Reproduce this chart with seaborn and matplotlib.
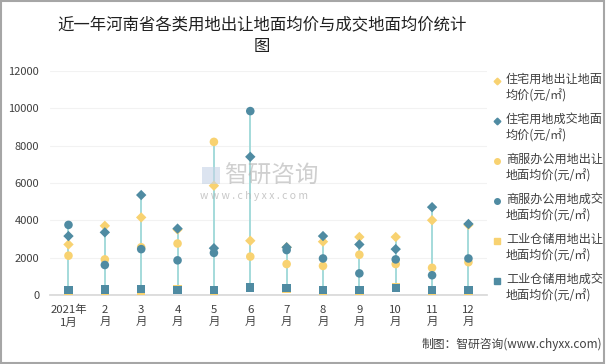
import numpy as np
import pandas as pd
import matplotlib.pyplot as plt
import matplotlib.patches as patches
from matplotlib.lines import Line2D
import seaborn as sns

sns.set_theme(style="white")
plt.rcParams['font.family'] = ['Noto Sans CJK SC', 'DejaVu Sans']

# data
months = ["2021年\n1月", "2\n月", "3\n月", "4\n月", "5\n月", "6\n月",
          "7\n月", "8\n月", "9\n月", "10\n月", "11\n月", "12\n月"]
res_transfer = [2700, 3700, 4150, 3500, 5850, 2900, 2550, 2850, 3100, 3100, 4000, 3750]
res_deal = [3150, 3350, 5350, 3550, 2500, 7400, 2550, 3150, 2700, 2450, 4700, 3800]
com_transfer = [2100, 1900, 2550, 2750, 8200, 2050, 1650, 1550, 2150, 1650, 1450, 1750]
com_deal = [3750, 1600, 2450, 1850, 2250, 9850, 2400, 1950, 1150, 1900, 1050, 1950]
ind_transfer = [200, 230, 150, 280, 220, 350, 300, 220, 200, 400, 220, 220]
ind_deal = [250, 280, 300, 250, 270, 400, 350, 270, 270, 350, 270, 270]

labels = ["住宅用地出让地面\n均价(元/㎡)", "住宅用地成交地面\n均价(元/㎡)",
          "商服办公用地出让\n地面均价(元/㎡)", "商服办公用地成交\n地面均价(元/㎡)",
          "工业仓储用地出让\n地面均价(元/㎡)", "工业仓储用地成交\n地面均价(元/㎡)"]

YELLOW = "#F8D271"
BLUE = "#4F8BA2"
LINE = "#9DD8D8"

series = [res_transfer, res_deal, com_transfer, com_deal, ind_transfer, ind_deal]
markers = ["D", "D", "o", "o", "s", "s"]
colors = [YELLOW, BLUE, YELLOW, BLUE, YELLOW, BLUE]
sizes = [28, 28, 38, 38, 36, 36]
# draw order: transfer under deal for industrial
order = [0, 2, 4, 5, 1, 3]

W, H = 606, 364
x = np.arange(len(months))
fig = plt.figure(figsize=(6.06, 3.64), dpi=100)
ax = fig.add_axes([0.083, 0.19, 0.72, 0.615])

allv = np.array(series)
ax.vlines(x, allv.min(axis=0), allv.max(axis=0), color=LINE, lw=1.3, zorder=1)

for i in order:
    df = pd.DataFrame({"x": x, "y": series[i]})
    sns.scatterplot(data=df, x="x", y="y", marker=markers[i], color=colors[i],
                    s=sizes[i], edgecolor="none", ax=ax, zorder=3 + i, legend=False)

ax.set_xlim(-0.5, 11.5)
ax.set_ylim(0, 12000)
ax.set_yticks(range(0, 12001, 2000))
ax.set_xticks(x)
ax.set_xticklabels(months, fontsize=8.2, color="#404040", linespacing=1.3)
ax.tick_params(axis="y", labelsize=8, labelcolor="#404040", length=0, pad=8)
ax.tick_params(axis="x", length=0, pad=7)
ax.set_xlabel("")
ax.set_ylabel("")
ax.grid(axis="y", color="#F2F2F2", lw=0.8)
for s in ["top", "right", "left"]:
    ax.spines[s].set_visible(False)
ax.spines["bottom"].set_color("#D9D9D9")

# legend on the right, marker lined up with the first text line
for k in range(6):
    yc = 81 + 40 * k
    fig.add_artist(Line2D([497 / W], [1 - yc / H], transform=fig.transFigure,
                          marker=markers[k], color=colors[k], ls="none",
                          markersize=3.4 if markers[k] == "D" else 4.0))
    fig.text(506 / W, 1 - (yc - 8) / H, labels[k], ha="left", va="top",
             fontsize=8.7, color="#404040", linespacing=1.3)

fig.text(0.432, 0.955, "近一年河南省各类用地出让地面均价与成交地面均价统计\n图",
         ha="center", va="top", fontsize=11.8, color="#202020", linespacing=1.35)

# watermark
fig.text(0.37, 0.515, "智研咨询", fontsize=17, color="#B0B0B0", alpha=0.6,
         ha="left", va="center")
fig.text(0.33, 0.462, "w w w . c h y x x . c o m", fontsize=7.5, color="#B0B0B0",
         alpha=0.7, ha="left", va="center")
fig.patches.append(patches.Rectangle((0.333, 0.495), 0.03, 0.045, transform=fig.transFigure,
                                     facecolor="#C5D3E6", alpha=0.6, edgecolor="none"))

fig.text(0.993, 0.035, "制图：智研咨询(www.chyxx.com)", ha="right", va="bottom",
         fontsize=8.5, color="#404040")

fig.patches.append(patches.Rectangle((0.002, 0.003), 0.995, 0.994, transform=fig.transFigure,
                                     fill=False, edgecolor="#A6A6A6", lw=1.5))

fig.savefig("out.png", dpi=100)
